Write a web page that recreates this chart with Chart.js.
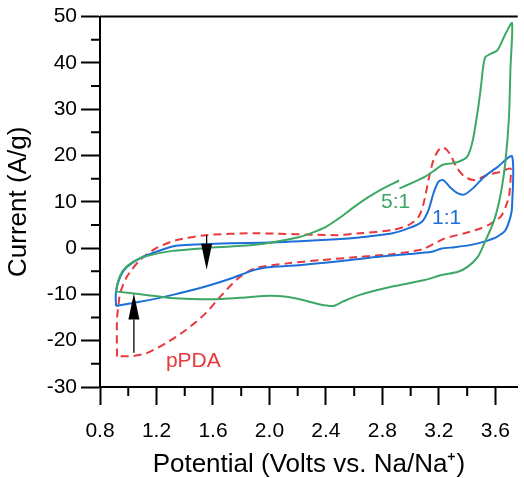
<!DOCTYPE html>
<html>
<head>
<meta charset="utf-8">
<script src="https://cdn.jsdelivr.net/npm/chart.js@4"></script>
<style>
  html, body { margin: 0; padding: 0; background: #fff; }
  canvas { display: block; }
</style>
</head>
<body>
<canvas id="cvChart" width="524" height="478"></canvas>
<script>
// axis ticks
const xTicks = [0.8, 1.2, 1.6, 2.0, 2.4, 2.8, 3.2, 3.6]
const xMinorTicks = [1.0, 1.4, 1.8, 2.2, 2.6, 3.0, 3.4]
const yTicks = [-30, -20, -10, 0, 10, 20, 30, 40, 50]
const yMinorTicks = [-25, -15, -5, 5, 15, 25, 35, 45]

// 5:1 loop (V, A/g)
const ratio51Potential = [2.92, 3.01, 3.10, 3.17, 3.22, 3.29, 3.335, 3.40, 3.44, 3.475, 3.49, 3.50, 3.515, 3.53, 3.568, 3.614, 3.672, 3.718,
  3.707, 3.696, 3.672, 3.638, 3.591, 3.521, 3.475, 3.405, 3.335, 3.22, 3.10, 2.87, 2.64, 2.523, 2.45, 2.36, 2.25, 2.12, 2.0, 1.85, 1.66, 1.45, 1.30, 1.10, 0.921,
  0.913, 0.931, 0.966, 1.036, 1.129, 1.314, 1.547, 1.895, 2.2, 2.3, 2.4, 2.5, 2.6, 2.7, 2.8, 2.918]
const ratio51Current = [12.9, 14.1, 15.4, 16.8, 17.9, 18.3, 18.6, 19.7, 23.3, 29.7, 33.0, 35.5, 39.5, 41.3, 42.0, 42.7, 46.3, 48.6,
  39.1, 28.3, 19.0, 11.8, 6.0, 1.0, -1.9, -4.0, -5.1, -5.8, -6.9, -8.3, -10.1, -11.5, -12.5, -12.2, -11.3, -10.5, -10.3, -10.6, -11.0, -11.0, -10.8, -10.0, -9.4,
  -9.4, -6.9, -4.7, -2.9, -1.7, -0.6, 0.0, 0.7, 2.3, 3.3, 4.6, 6.6, 8.9, 11.0, 12.8, 14.6]

// 1:1 loop
const ratio11Potential = [0.913, 0.913, 0.943, 0.99, 1.082, 1.199, 1.338, 1.663, 2.011, 2.476, 2.638, 2.871, 2.987, 3.08, 3.126, 3.161, 3.196, 3.231, 3.277, 3.335, 3.382, 3.44, 3.521, 3.614, 3.718,
  3.718, 3.707, 3.672, 3.614, 3.521, 3.428, 3.312, 3.219, 3.15, 2.987, 2.755, 2.476, 2.244, 2.011, 1.895, 1.732, 1.547, 1.314, 1.082, 0.913]
const ratio11Current = [-12.5, -9.4, -6.2, -4.1, -2.2, -0.8, 0.5, 1.0, 1.2, 1.9, 2.3, 3.2, 4.3, 5.7, 8.2, 11.8, 14.3, 14.7, 13.2, 11.8, 11.6, 12.9, 15.4, 17.5, 19.8,
  8.9, 6.8, 3.9, 2.5, 1.4, 0.7, 0.2, -0.1, -0.8, -1.3, -1.9, -2.9, -3.6, -4.1, -4.7, -6.5, -8.3, -10.1, -11.6, -12.5]

// pPDA loop
const pPDAPotential = [0.92, 0.92, 0.93, 0.943, 0.99, 1.082, 1.199, 1.338, 1.547, 1.895, 2.476, 2.638, 2.871, 2.987, 3.057, 3.091, 3.126, 3.161, 3.196, 3.231, 3.277, 3.324, 3.382, 3.452, 3.544, 3.638, 3.707,
  3.707, 3.696, 3.672, 3.638, 3.568, 3.498, 3.382, 3.242, 3.15, 3.08, 2.871, 2.638, 2.36, 2.128, 1.895, 1.779, 1.663, 1.547, 1.408, 1.268, 1.129, 1.036, 0.92]
const pPDACurrent = [-23.4, -15.5, -12.5, -9.7, -6.2, -2.6, 0.0, 1.7, 2.8, 3.2, 2.8, 3.2, 3.9, 5.0, 6.8, 9.6, 14.7, 19.0, 21.1, 21.8, 20.4, 17.5, 15.4, 14.7, 15.8, 16.5, 17.2,
  14.7, 11.1, 8.9, 6.8, 5.3, 4.3, 3.2, 2.1, 0.7, -0.3, -1.3, -1.9, -2.6, -3.3, -4.4, -6.5, -10.1, -14.1, -17.7, -20.5, -22.7, -23.3, -23.4]

// curve labels
const seriesLabels = ['5:1', '1:1', 'pPDA']
const labelPotential = [2.894, 3.254, 1.461]
const labelCurrent = [10.0, 6.4, -24.5]
const labelColors = ['#3da865', '#1c6fd8', '#e8383d']

// arrows
const arrowPotential = [1.555, 1.04]
const arrowFrom = [2.8, -22.6]
const arrowTo = [-4.7, -9.8]

const fontFamily = "'Liberation Sans', Arial, sans-serif"

function toPoints (xs, ys) {
  return xs.map((v, i) => ({ x: v, y: ys[i] }))
}

const cvExtras = {
  id: 'cvExtras',
  afterDraw (chart) {
    const { ctx, chartArea, scales: { x, y } } = chart
    ctx.save()
    ctx.strokeStyle = '#000'
    ctx.lineWidth = 2
    ctx.beginPath()
    // top frame
    ctx.moveTo(chartArea.left, chartArea.top)
    ctx.lineTo(chartArea.right, chartArea.top)
    yMinorTicks.forEach(v => {
      const py = y.getPixelForValue(v)
      ctx.moveTo(chartArea.left - 9, py)
      ctx.lineTo(chartArea.left, py)
    })
    xMinorTicks.forEach(v => {
      const px = x.getPixelForValue(v)
      ctx.moveTo(px, chartArea.bottom)
      ctx.lineTo(px, chartArea.bottom + 9)
    })
    ctx.stroke()

    // arrows
    arrowPotential.forEach((v, i) => {
      const px = x.getPixelForValue(v)
      const p0 = y.getPixelForValue(arrowFrom[i])
      const p1 = y.getPixelForValue(arrowTo[i])
      const dir = p1 > p0 ? 1 : -1
      const headLen = 26
      ctx.lineWidth = 1.3
      ctx.beginPath()
      ctx.moveTo(px, p0)
      ctx.lineTo(px, p1 - dir * headLen)
      ctx.stroke()
      ctx.fillStyle = '#000'
      ctx.beginPath()
      ctx.moveTo(px, p1)
      ctx.lineTo(px - 5.5, p1 - dir * headLen)
      ctx.lineTo(px + 5.5, p1 - dir * headLen)
      ctx.closePath()
      ctx.fill()
    })

    // labels
    ctx.font = '21px ' + fontFamily
    ctx.textAlign = 'center'
    ctx.textBaseline = 'middle'
    seriesLabels.forEach((t, i) => {
      ctx.fillStyle = labelColors[i]
      ctx.fillText(t, x.getPixelForValue(labelPotential[i]), y.getPixelForValue(labelCurrent[i]))
    })
    ctx.restore()
  }
}

new Chart(document.getElementById('cvChart'), {
  type: 'scatter',
  data: {
    datasets: [
      {
        label: '5:1',
        data: toPoints(ratio51Potential, ratio51Current),
        borderColor: labelColors[0],
        borderWidth: 2
      },
      {
        label: '1:1',
        data: toPoints(ratio11Potential, ratio11Current),
        borderColor: labelColors[1],
        borderWidth: 2
      },
      {
        label: 'pPDA',
        data: toPoints(pPDAPotential, pPDACurrent),
        borderColor: labelColors[2],
        borderWidth: 2,
        borderDash: [8, 5]
      }
    ]
  },
  options: {
    responsive: false,
    animation: false,
    showLine: true,
    datasets: {
      scatter: { showLine: true, pointRadius: 0, tension: 0.25, fill: false }
    },
    layout: { padding: { top: 16, right: 0, bottom: 0, left: 0 } },
    plugins: {
      legend: { display: false },
      tooltip: { enabled: false }
    },
    scales: {
      x: {
        type: 'linear',
        min: 0.8,
        max: 3.758,
        afterFit: s => { s.height = 91 },
        afterBuildTicks: s => { s.ticks = xTicks.map(v => ({ value: v })) },
        ticks: {
          color: '#000',
          font: { family: fontFamily, size: 21 },
          padding: 14,
          maxRotation: 0,
          autoSkip: false,
          callback: v => Number(v).toFixed(1)
        },
        grid: { drawOnChartArea: false, tickLength: 18, tickWidth: 2, tickColor: '#000' },
        border: { color: '#000', width: 2 },
        title: {
          display: true,
          text: 'Potential (Volts vs. Na/Na⁺)',
          color: '#000',
          font: { family: fontFamily, size: 26, lineHeight: 1 },
          padding: 0
        }
      },
      y: {
        type: 'linear',
        min: -30,
        max: 50,
        afterFit: s => { s.width = 100 },
        afterBuildTicks: s => { s.ticks = yTicks.map(v => ({ value: v })) },
        ticks: {
          color: '#000',
          font: { family: fontFamily, size: 21 },
          padding: 4
        },
        grid: { drawOnChartArea: false, tickLength: 19, tickWidth: 2, tickColor: '#000' },
        border: { color: '#000', width: 2 },
        title: {
          display: true,
          text: 'Current (A/g)',
          color: '#000',
          font: { family: fontFamily, size: 26, lineHeight: 1 },
          padding: { top: 6, bottom: 0 }
        }
      }
    }
  },
  plugins: [cvExtras]
})
</script>
</body>
</html>
